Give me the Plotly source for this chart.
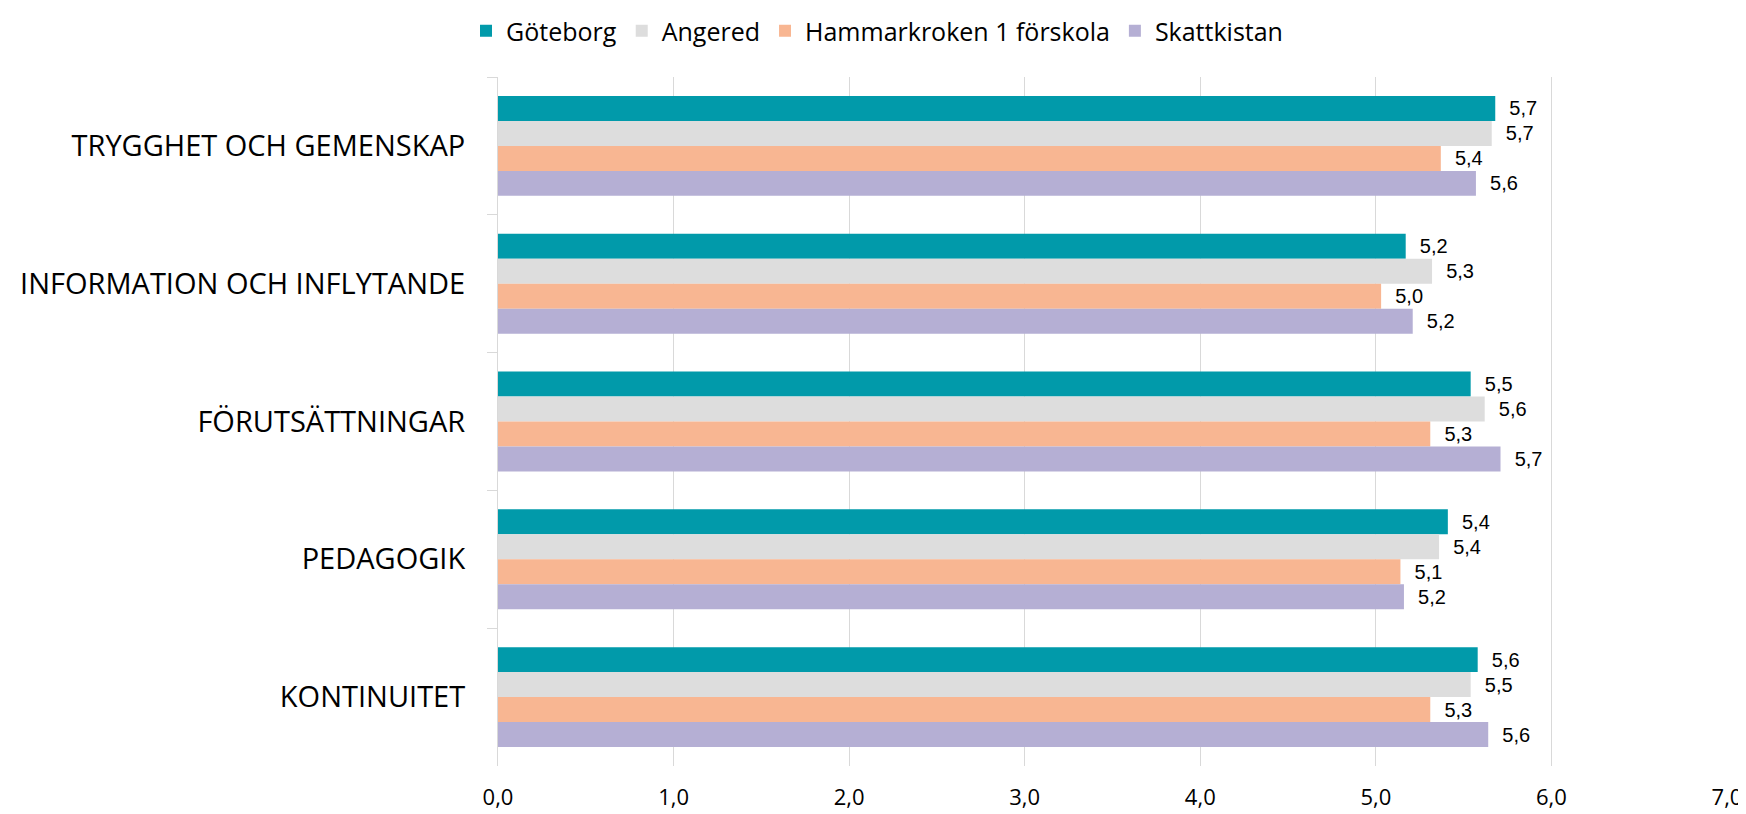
import plotly.graph_objects as go

categories = ["TRYGGHET OCH GEMENSKAP", "INFORMATION OCH INFLYTANDE", "FÖRUTSÄTTNINGAR", "PEDAGOGIK", "KONTINUITET"]
series_names = ["Göteborg", "Angered", "Hammarkroken 1 förskola", "Skattkistan"]
goteborg = [5.68, 5.17, 5.54, 5.41, 5.58]
angered = [5.66, 5.32, 5.62, 5.36, 5.54]
hammarkroken = [5.37, 5.03, 5.31, 5.14, 5.31]
skattkistan = [5.57, 5.21, 5.71, 5.16, 5.64]
colors = ["#019AAA", "#DDDDDD", "#F8B692", "#B5AFD4"]
x_ticks = [0, 1, 2, 3, 4, 5, 6, 7]

fig = go.Figure()
for name, vals, col in zip(series_names, [goteborg, angered, hammarkroken, skattkistan], colors):
    fig.add_trace(go.Bar(
        y=categories, x=vals, name=name, orientation="h",
        marker=dict(color=col, line=dict(width=0)),
        texttemplate="  %{x:.1f}", textposition="outside",
        textfont=dict(family="Liberation Sans, Arial", size=20, color="#000000"),
        cliponaxis=False,
    ))

# page body has an 8px default margin, so the figure is 8px smaller than the window
fig.update_layout(
    width=1738, height=806,
    barmode="group", bargap=0.275, bargroupgap=0,
    separators=",.",
    plot_bgcolor="white", paper_bgcolor="white",
    margin=dict(l=490, r=19, t=69, b=48),
    legend=dict(orientation="h", xref="container", yref="container", x=0.5, xanchor="center",
                y=1.0, yanchor="top",
                font=dict(family="Open Sans", size=25, color="#000000"),
                itemwidth=30, traceorder="normal"),
    xaxis=dict(range=[0, 7], tickvals=x_ticks, tickformat=".1f",
               showgrid=True, gridcolor="#D9D9D9", gridwidth=1,
               zeroline=False, showline=False, ticks="", automargin=False,
               tickfont=dict(family="Open Sans", size=22, color="#000000"),
               ticklabelstandoff=16),
    yaxis=dict(autorange="reversed", showline=True, linecolor="#D9D9D9", linewidth=1,
               ticks="outside", tickson="boundaries", ticklen=10, tickcolor="#D9D9D9",
               automargin=False,
               tickfont=dict(family="Open Sans", size=29, color="#000000"),
               ticklabelstandoff=26),
)

fig.write_html("out.html")
